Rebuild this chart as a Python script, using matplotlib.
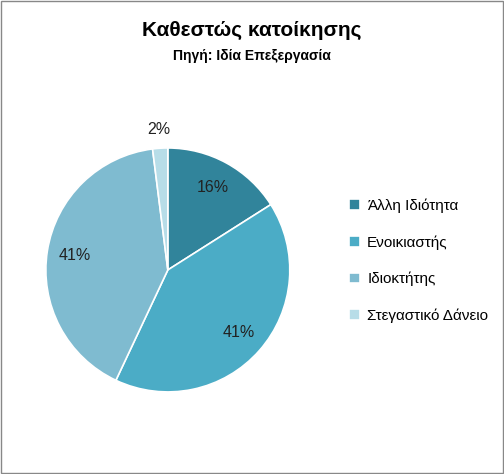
import matplotlib
matplotlib.use("Agg")
import matplotlib.pyplot as plt
from matplotlib.patches import Rectangle
import numpy as np

categories = ["Άλλη Ιδιότητα", "Ενοικιαστής", "Ιδιοκτήτης", "Στεγαστικό Δάνειο"]
values = [16, 41, 41, 2]
colors = ["#31849B", "#4BACC6", "#7FBBD0", "#B7DDE8"]

plt.rcParams['font.family'] = ['Liberation Sans', 'DejaVu Sans']
fig = plt.figure(figsize=(5.04, 4.74), dpi=100)
fig.patches.append(Rectangle((0.002, 0.002), 0.996, 0.996, transform=fig.transFigure,
                             fill=False, edgecolor="#888888", linewidth=1))
ax = fig.add_axes([0.091, 0.173, 0.484, 0.515])
wedges, texts, autotexts = ax.pie(values, colors=colors, startangle=90, counterclock=False,
                                  autopct=lambda p: f"{p:.0f}%", pctdistance=0.77,
                                  wedgeprops=dict(edgecolor="white", linewidth=1.2),
                                  textprops=dict(fontsize=11.5, color="#222222"))
w = wedges[3]
ang = np.deg2rad((w.theta1 + w.theta2) / 2)
autotexts[3].set_position((1.15 * np.cos(ang), 1.15 * np.sin(ang)))
ax.set_xlim(-1, 1)
ax.set_ylim(-1, 1)
ax.set_aspect("equal")

fig.text(0.5, 0.935, "Καθεστώς κατοίκησης", ha="center", va="center", fontsize=15, fontweight="bold")
fig.text(0.5, 0.882, "Πηγή: Ιδία Επεξεργασία", ha="center", va="center", fontsize=10, fontweight="bold")

ax.legend(wedges, categories, loc="center left", bbox_to_anchor=(0.665, 0.45),
          bbox_transform=fig.transFigure, frameon=False, fontsize=11,
          handlelength=0.7, handleheight=0.7, handletextpad=0.5, labelspacing=1.45)
fig.savefig("out.png", dpi=100)
